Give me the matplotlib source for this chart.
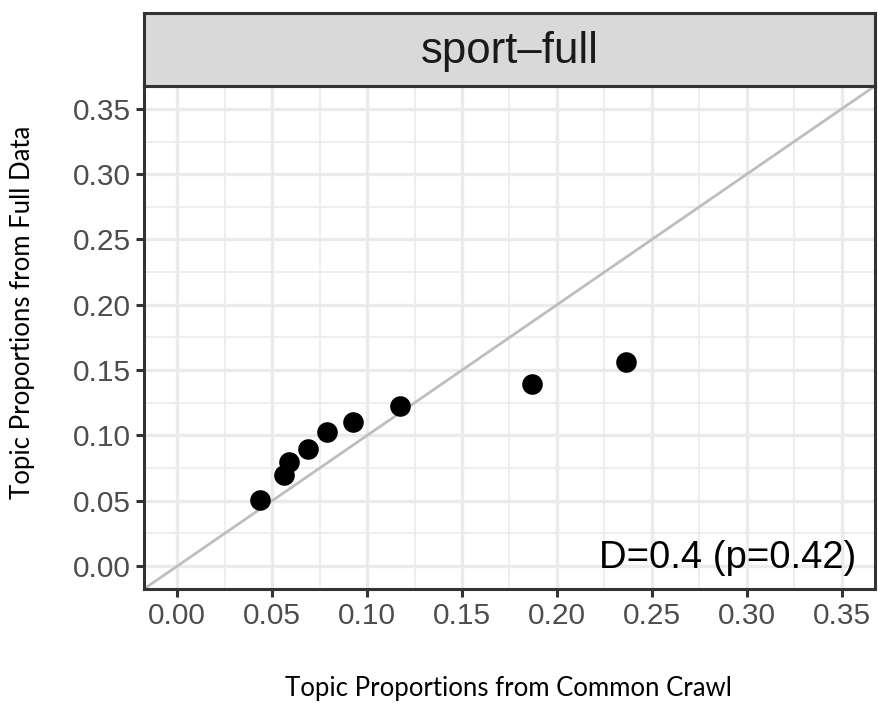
import matplotlib.pyplot as plt
import numpy as np

# proporzioni dei topic
common_crawl = [0.0434, 0.0564, 0.0589, 0.0689, 0.0787, 0.0927, 0.1174, 0.187, 0.2366]
full_data = [0.0506, 0.0701, 0.0798, 0.0899, 0.1030, 0.1104, 0.1223, 0.1393, 0.1562]
ticks = [0.00, 0.05, 0.10, 0.15, 0.20, 0.25, 0.30, 0.35]
panel_title = 'sport\u2013full'
stat_label = 'D=0.4 (p=0.42)'

plt.rcParams['font.family'] = ['Liberation Sans', 'DejaVu Sans']

fig = plt.figure(figsize=(8.79, 7.03), dpi=100)
ax = fig.add_axes([0.1638, 0.1622, 0.8316, 0.7155])
strip = fig.add_axes([0.1638, 0.8777, 0.8316, 0.1038])

lim = (-0.0175, 0.3675)
ax.set_xlim(lim)
ax.set_ylim(lim)

# griglia stile theme_bw
ax.set_xticks(ticks)
ax.set_yticks(ticks)
ax.set_xticks([t + 0.025 for t in ticks[:-1]], minor=True)
ax.set_yticks([t + 0.025 for t in ticks[:-1]], minor=True)
ax.grid(True, which='major', color='#EBEBEB', linewidth=2.4, zorder=0)
ax.grid(True, which='minor', color='#EBEBEB', linewidth=1.2, zorder=0)
ax.set_axisbelow(True)
ax.tick_params(which='minor', length=0)
ax.tick_params(which='major', length=5.5, width=2.2, color='#333333',
               labelsize=21.5, labelcolor='#4D4D4D', pad=4)
ax.set_xticklabels([f'{t:.2f}' for t in ticks])
ax.set_yticklabels([f'{t:.2f}' for t in ticks])

for sp in ax.spines.values():
    sp.set_color('#333333')
    sp.set_linewidth(2.2)

# diagonale y = x
ax.axline((0, 0), slope=1, color='#BEBEBE', linewidth=2.0, zorder=1)
ax.scatter(common_crawl, full_data, s=220, color='black', zorder=3, linewidths=0)

ax.text(0.975, 0.025, stat_label, transform=ax.transAxes, ha='right', va='bottom',
        fontsize=27.5, color='black')

# striscia del facet
strip.set_facecolor('#D9D9D9')
strip.set_xticks([])
strip.set_yticks([])
for sp in strip.spines.values():
    sp.set_color('#333333')
    sp.set_linewidth(2.2)
strip.text(0.5, 0.47, panel_title, ha='center', va='center', fontsize=31.5, color='#1A1A1A')

fig.text(0.578, 0.02, 'Topic Proportions from Common Crawl', ha='center', va='center',
         fontsize=18.5, family=['Lato', 'DejaVu Sans'])
fig.text(0.026, 0.555, 'Topic Proportions from Full Data', ha='center', va='center',
         rotation=90, fontsize=18.5, family=['Lato', 'DejaVu Sans'])

plt.savefig('out.png', dpi=100)
plt.close()
